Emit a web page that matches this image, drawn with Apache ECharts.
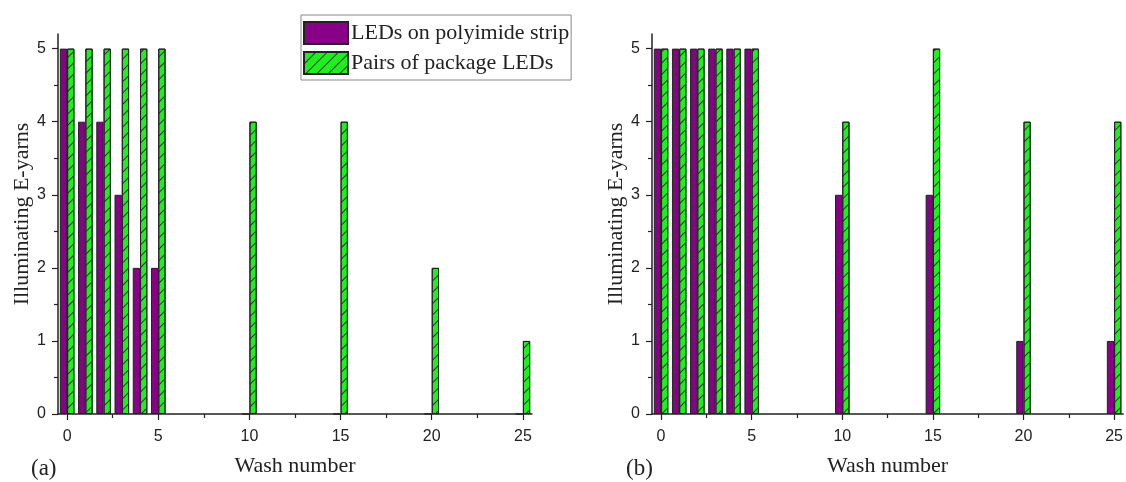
<!DOCTYPE html>
<html>
<head>
<meta charset="utf-8">
<script src="https://cdn.jsdelivr.net/npm/echarts@6/dist/echarts.min.js"></script>
<style>html,body{margin:0;padding:0;background:#fff;}#c{width:1126px;height:482px;}</style>
</head>
<body>
<div id="c"></div>
<script>
// ---- data ----
const washNumbers = [0, 1, 2, 3, 4, 5, 10, 15, 20, 25];
const stripA = [5, 4, 4, 3, 2, 2, 0, 0, 0, 0];
const packageA = [5, 5, 5, 5, 5, 5, 4, 4, 2, 1];
const stripB = [5, 5, 5, 5, 5, 5, 3, 3, 1, 1];
const packageB = [5, 5, 5, 5, 5, 5, 4, 5, 4, 4];
const xMajorTicks = [0, 5, 10, 15, 20, 25];
const xMinorTicks = [2.5, 7.5, 12.5, 17.5, 22.5];
const yMajorTicks = [0, 1, 2, 3, 4, 5];
const yMinorTicks = [0.5, 1.5, 2.5, 3.5, 4.5];
const seriesNames = ['LEDs on polyimide strip', 'Pairs of package LEDs'];
const xName = 'Wash number';
const yName = 'Illuminating E-yarns';
const panelLabels = ['(a)', '(b)'];

// ---- styles ----
const purple = '#880088';
const green = '#1ef01e';
const ink = '#222';
const serif = "'Liberation Serif', 'Times New Roman', serif";
const sans = "'Liberation Sans', Arial, sans-serif";
const hatch = {
  symbol: 'rect', symbolSize: 1, color: '#1b3a1b',
  dashArrayX: [1, 0], dashArrayY: [1, 7], rotation: -Math.PI / 4
};

const chart = echarts.init(document.getElementById('c'));

const grids = [
  { left: 58, top: 34, width: 474, height: 382 },
  { left: 652, top: 34, width: 474, height: 382 }
];

const xAxes = [], yAxes = [];
grids.forEach((g, gi) => {
  xAxes.push({
    type: 'value', gridIndex: gi, min: -0.5, max: 25.5, position: 'bottom',
    name: xName, nameLocation: 'middle', nameGap: 41,
    nameTextStyle: { fontFamily: serif, fontSize: 22, color: ink },
    axisLine: { show: true, onZero: false, lineStyle: { color: ink, width: 1.5 } },
    axisTick: { show: true, length: 6, customValues: xMajorTicks, lineStyle: { color: ink, width: 1.2 } },
    axisLabel: { customValues: xMajorTicks, margin: 15, fontFamily: sans, fontSize: 16, color: ink },
    splitLine: { show: false }
  });
  xAxes.push({
    type: 'value', gridIndex: gi, min: -0.5, max: 25.5, position: 'bottom', offset: 0,
    axisLine: { show: false, onZero: false },
    axisTick: { show: true, length: 4, customValues: xMinorTicks, lineStyle: { color: ink, width: 1.2 } },
    axisLabel: { show: false },
    splitLine: { show: false }
  });
  yAxes.push({
    type: 'value', gridIndex: gi, min: 0, max: 5.2, position: 'left',
    name: yName, nameLocation: 'middle', nameGap: 25,
    nameTextStyle: { fontFamily: serif, fontSize: 22, color: ink, padding: [0, 0, 0, 20] },
    axisLine: { show: true, onZero: false, lineStyle: { color: ink, width: 1.5 } },
    axisTick: { show: true, length: 6, customValues: yMajorTicks, lineStyle: { color: ink, width: 1.2 } },
    axisLabel: { customValues: yMajorTicks, margin: 12, fontFamily: sans, fontSize: 16, color: ink },
    splitLine: { show: false }
  });
  yAxes.push({
    type: 'value', gridIndex: gi, min: 0, max: 5.2, position: 'left', offset: 0,
    axisLine: { show: false, onZero: false },
    axisTick: { show: true, length: 4, customValues: yMinorTicks, lineStyle: { color: ink, width: 1.2 } },
    axisLabel: { show: false },
    splitLine: { show: false }
  });
});

function barSeries(name, values, panel, color, decal) {
  return {
    type: 'bar', name: name,
    xAxisIndex: panel * 2, yAxisIndex: panel * 2,
    data: washNumbers.map((w, i) => [w, values[i]]),
    barWidth: '40%', barGap: '0%',
    itemStyle: Object.assign({ color: color, borderColor: ink, borderWidth: 1 }, decal ? { decal: decal } : {}),
    emphasis: { disabled: true },
    animation: false
  };
}

chart.setOption({
  backgroundColor: '#fff',
  animation: false,
  grid: grids,
  xAxis: xAxes,
  yAxis: yAxes,
  legend: {
    data: seriesNames,
    left: 301, top: 15, orient: 'vertical',
    itemWidth: 44, itemHeight: 22, itemGap: 6,
    padding: [6, 2, 5, 2],
    borderColor: '#888', borderWidth: 1,
    icon: 'rect',
    textStyle: { fontFamily: serif, fontSize: 22, lineHeight: 22, color: ink, padding: [0, 0, 0, -2] }
  },
  graphic: [
    { type: 'text', left: 31, top: 457, style: { text: panelLabels[0], fontFamily: serif, fontSize: 23, fill: ink } },
    { type: 'text', left: 626, top: 457, style: { text: panelLabels[1], fontFamily: serif, fontSize: 23, fill: ink } }
  ],
  series: [
    barSeries(seriesNames[0], stripA, 0, purple, null),
    barSeries(seriesNames[1], packageA, 0, green, hatch),
    barSeries(seriesNames[0], stripB, 1, purple, null),
    barSeries(seriesNames[1], packageB, 1, green, hatch)
  ]
});
</script>
</body>
</html>
